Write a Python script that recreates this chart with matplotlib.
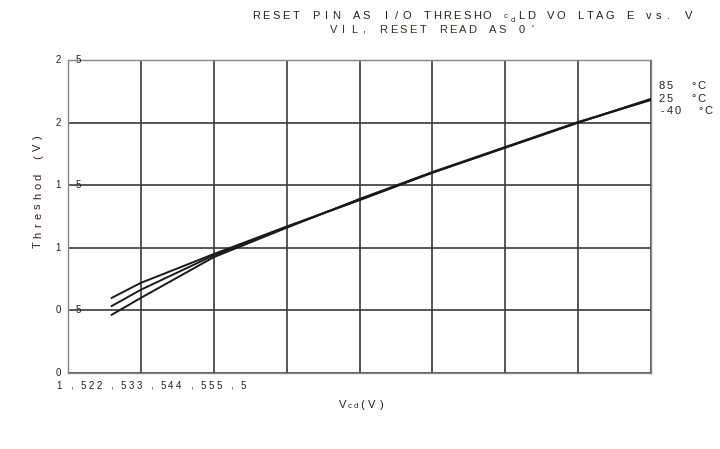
import matplotlib.pyplot as plt

plt.rcParams['font.family'] = ['Liberation Sans', 'DejaVu Sans']

# Vcc (V) と各温度のしきい値 (V)
vcc = [1.8, 2.0, 2.5, 3.0, 3.5, 4.0, 4.5, 5.0, 5.5]
t85 = [0.60, 0.72, 0.95, 1.17, 1.38, 1.60, 1.80, 2.00, 2.19]
t25 = [0.535, 0.665, 0.94, 1.165, 1.385, 1.60, 1.80, 2.00, 2.185]
tm40 = [0.465, 0.60, 0.925, 1.16, 1.39, 1.605, 1.805, 2.005, 2.18]
legend_labels = ['85  °C', '25  °C', '-40  °C']

xgrid = [1.5, 2.0, 2.5, 3.0, 3.5, 4.0, 4.5, 5.0, 5.5]
ygrid = [0, 0.5, 1.0, 1.5, 2.0, 2.5]
ylab_left = ['0', '0', '1', '1', '2', '2']
ylab_right = ['', '5', '', '5', '', '5']
xtick_text = '1,522,533,544,555,5'

W, H = 720, 449
fig = plt.figure(figsize=(7.2, 4.49), dpi=100)
ax = fig.add_axes([68/W, 1-373/H, (651-68)/W, (373-60)/H])


def spaced(x, y, s, pitch, size=8, color='#222222', rot=0):
    # 1文字ずつ等間隔に置く (px 座標, 左上原点)
    for ch in s:
        if ch != ' ':
            fig.text(x/W, 1-y/H, ch, ha='center', va='center', fontsize=size,
                     color=color, rotation=rot)
        if rot == 0:
            x += pitch
        else:
            y -= pitch


for x in xgrid:
    ax.axvline(x, color='#3a3a3a', lw=1.2, zorder=1)
for y in ygrid:
    ax.axhline(y, color='#3a3a3a', lw=1.2, zorder=1)

for s in [t85, t25, tm40]:
    ax.plot(vcc, s, color='#1a1a1a', lw=1.4, zorder=3)

ax.set_xlim(1.5, 5.5)
ax.set_ylim(0, 2.5)
ax.set_xticks([])
ax.set_yticks([])
for sp in ax.spines.values():
    sp.set_color('#888888')
    sp.set_linewidth(1.0)

ytr = ax.get_yaxis_transform()
for y, a, b in zip(ygrid, ylab_left, ylab_right):
    ax.text(-0.012, y, a, transform=ytr, ha='right', va='center', fontsize=7, color='#222222')
    if b:
        ax.text(0.017, y, b, transform=ytr, ha='center', va='center', fontsize=7, color='#222222')

# x 目盛 (文字化けしたまま、カンマの前後は広め)
px = 59
for i, ch in enumerate(xtick_text):
    fig.text(px/W, 1-386/H, ch, ha='center', va='center', fontsize=7, color='#222222')
    nxt = xtick_text[i+1] if i+1 < len(xtick_text) else ''
    px += 12 if (ch == ',' or nxt == ',') else 8

# 凡例（右側のテキスト）
for i, lab in enumerate(legend_labels):
    spaced(662, 86 + 12.5*i, lab, 7.8, size=8)

# タイトル
spaced(256, 16, 'RESET PIN AS I/O THRESHO', 10.05)
fig.text(506/W, 1-17/H, 'c', ha='center', va='center', fontsize=5.5, color='#222222')
fig.text(513/W, 1-21/H, 'd', ha='center', va='center', fontsize=5.5, color='#222222')
spaced(521, 16, 'LD VO LTAG E vs. V', 9.85)
spaced(334, 30, "VIL, RESET READ AS 0'", 9.9, color='#33331f')

# 軸ラベル
spaced(38, 245, 'Threshod (V)', 9.8, color='#3a1a28', rot=90)
fig.text(343/W, 1-405/H, 'V', ha='center', va='center', fontsize=8, color='#222222')
fig.text(350/W, 1-407/H, 'c', ha='center', va='center', fontsize=5.5, color='#222222')
fig.text(356/W, 1-407/H, 'd', ha='center', va='center', fontsize=5.5, color='#222222')
spaced(362, 405, '( V )', 5.0)

fig.savefig('out.png', dpi=100)
